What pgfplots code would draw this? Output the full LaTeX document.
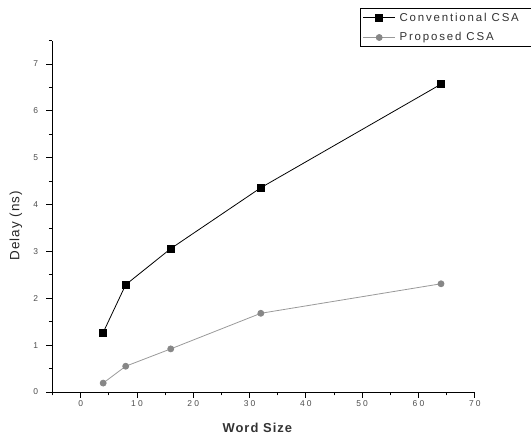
\documentclass[border=0pt]{standalone}
\usepackage{fontspec}
\setmainfont{Liberation Sans}
\newfontfamily\tickfont[LetterSpace=25]{Liberation Sans}
\newfontfamily\labfont[LetterSpace=8]{Liberation Sans}
\newfontfamily\legfont[LetterSpace=16]{Liberation Sans}
\usepackage{pgfplots}
\pgfplotsset{compat=1.18}
\definecolor{propgray}{RGB}{135,135,135}
\begin{document}
\begin{tikzpicture}
\useasboundingbox (0,0) rectangle (531bp,436bp);
\begin{axis}[
  at={(52.5bp,44bp)}, anchor=south west,
  scale only axis, width=422.3bp, height=351.4bp,
  xmin=-5, xmax=70, ymin=0, ymax=7.5,
  axis lines*=left,
  axis line style={black, line width=0.8pt},
  xtick={0,10,...,70}, minor xtick={-5,5,...,65},
  ytick={0,1,...,7}, minor ytick={0.5,1.5,...,7.5},
  tick align=outside, major tick length=6bp, minor tick length=3.5bp,
  every tick/.style={black, line width=0.8pt},
  /pgf/number format/assume math mode=true,
  ticklabel style={font=\tickfont\fontsize{8.5}{9}\selectfont, text=black!70},
  yticklabel style={xshift=-5bp},
  xticklabel style={yshift=1bp},
  xlabel={Word Size}, ylabel={Delay (ns)},
  xlabel style={at={(axis description cs:0.485,-0.101)}, anchor=center, font=\labfont\fontsize{13}{15}\selectfont\bfseries, text=black!80},
  ylabel style={at={(axis description cs:-0.0864,0.473)}, anchor=center, font=\labfont\fontsize{13.5}{15}\selectfont, text=black!85},
  legend style={at={(axis description cs:0.728,1.093)}, anchor=north west, draw=black, line width=0.8pt,
    font=\legfont\fontsize{11.5}{13}\selectfont, text=black!80, inner sep=2.5bp, row sep=6bp,
    /tikz/every odd column/.append style={column sep=2bp}},
  legend cell align=left,
  legend image code/.code={\draw[mark repeat=2,mark phase=2,#1] plot coordinates {(0bp,0bp) (16bp,0bp) (32bp,0bp)};},
]
\addplot[black, line width=0.8pt, mark=square*, mark size=3.5bp, mark options={solid, fill=black}]
  coordinates {(4,1.27) (8,2.29) (16,3.06) (32,4.36) (64,6.57)};
\addlegendentry{\makebox[160bp][l]{Conventional CSA}}
\addplot[propgray!85, line width=0.8pt, mark=*, mark size=3bp, mark options={solid, fill=propgray, draw=propgray}]
  coordinates {(4,0.19) (8,0.55) (16,0.92) (32,1.68) (64,2.31)};
\addlegendentry{Proposed CSA}
\end{axis}
\end{tikzpicture}
\end{document}
